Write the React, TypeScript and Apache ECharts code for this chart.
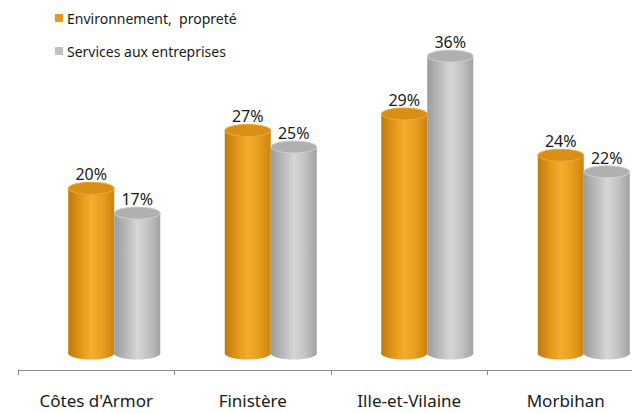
import React, { useEffect, useRef } from "react";
import * as echarts from "echarts";

const categories = ["Côtes d'Armor", "Finistère", "Ille-et-Vilaine", "Morbihan"];
const envValues = [20, 27, 29, 24];
const servValues = [17, 25, 36, 22];
const seriesNames = ["Environnement,  propreté", "Services aux entreprises"];

type Palette = { body: string[]; top: string; topEdge: string; bottom: string; legend: string };

const orange: Palette = {
  body: ["#c07a0c", "#e59a1c", "#f4ad2e", "#e79d1e", "#c98510"],
  top: "#d98f16",
  topEdge: "#f0aa34",
  bottom: "#b8740a",
  legend: "#e39a1e",
};
const grey: Palette = {
  body: ["#9c9c9c", "#bdbdbd", "#d6d6d6", "#c2c2c2", "#a2a2a2"],
  top: "#b0b0b0",
  topEdge: "#cfcfcf",
  bottom: "#979797",
  legend: "#c0c0c0",
};

function makeRender(pal: Palette, offset: number) {
  const w = 46;
  const rx = w / 2;
  const ry = 6;
  return (params: any, api: any) => {
    const cat = api.value(0);
    const v = api.value(1);
    const top = api.coord([cat, v]);
    const base = api.coord([cat, 0]);
    const cx = top[0] + offset;
    const grad = new echarts.graphic.LinearGradient(0, 0, 1, 0, [
      { offset: 0, color: pal.body[0] },
      { offset: 0.3, color: pal.body[1] },
      { offset: 0.5, color: pal.body[2] },
      { offset: 0.75, color: pal.body[3] },
      { offset: 1, color: pal.body[4] },
    ]);
    return {
      type: "group",
      children: [
        {
          type: "ellipse",
          shape: { cx, cy: base[1], rx, ry },
          style: { fill: grad },
        },
        {
          type: "rect",
          shape: { x: cx - rx, y: top[1], width: w, height: base[1] - top[1] },
          style: { fill: grad },
        },
        {
          type: "ellipse",
          shape: { cx, cy: top[1], rx, ry },
          style: { fill: pal.top, stroke: pal.topEdge, lineWidth: 1 },
        },
        {
          type: "text",
          style: {
            text: v + "%",
            x: cx,
            y: top[1] - 14,
            textAlign: "center",
            textVerticalAlign: "middle",
            fill: "#1a1a1a",
            font: "16px 'Noto Sans', sans-serif",
          },
        },
      ],
    };
  };
}

export default function App() {
  const ref = useRef<HTMLDivElement>(null);
  useEffect(() => {
    document.body.style.margin = "0";
    if (!ref.current) return;
    const chart = echarts.init(ref.current, undefined, { renderer: "svg" });
    chart.setOption({
      animation: false,
      backgroundColor: "#ffffff",
      legend: {
        orient: "vertical",
        left: 50,
        top: 6,
        itemWidth: 8,
        itemHeight: 8,
        itemGap: 19,
        icon: "rect",
        textStyle: { fontSize: 14, color: "#1a1a1a", fontFamily: "'Noto Sans', sans-serif", padding: [0, 0, 0, -1] },
        data: seriesNames,
      },
      grid: {
        left: 18,
        width: 626,
        top: 6.56,
        bottom: 43,
        containLabel: false,
        outerBoundsMode: "none",
      },
      xAxis: {
        type: "category",
        data: categories,
        axisLine: { onZero: false, lineStyle: { color: "#8c8c8c", width: 1 } },
        axisTick: { show: true, length: 5, lineStyle: { color: "#8c8c8c" } },
        axisLabel: {
          fontSize: 17,
          color: "#1a1a1a",
          margin: 22,
          fontFamily: "'Noto Sans', sans-serif",
        },
      },
      yAxis: {
        type: "value",
        min: -2,
        max: 42,
        show: false,
        splitLine: { show: false },
      },
      series: [
        {
          name: seriesNames[0],
          type: "custom",
          itemStyle: { color: orange.legend },
          renderItem: makeRender(orange, -5),
          data: envValues.map((v, i) => [i, v]),
        },
        {
          name: seriesNames[1],
          type: "custom",
          itemStyle: { color: grey.legend },
          renderItem: makeRender(grey, 41),
          data: servValues.map((v, i) => [i, v]),
        },
      ],
    });
    return () => chart.dispose();
  }, []);
  return <div ref={ref} style={{ width: 632, height: 413 }} />;
}
